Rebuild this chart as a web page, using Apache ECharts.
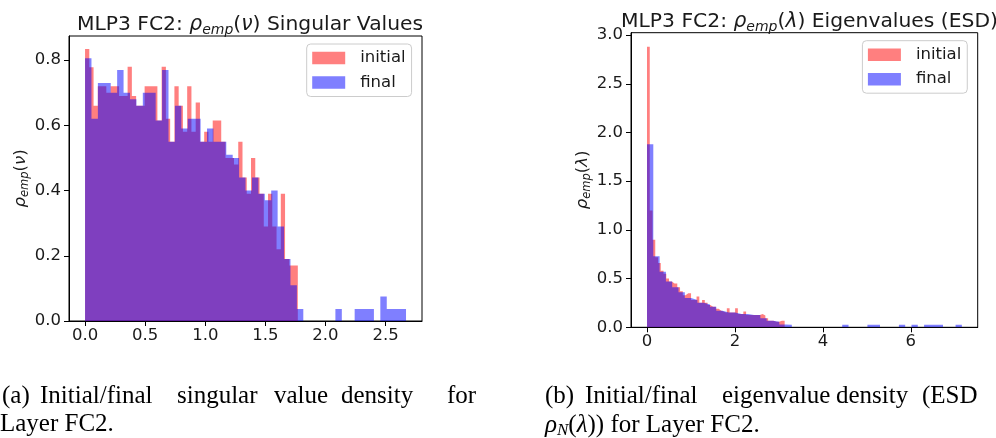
<!DOCTYPE html>
<html><head><meta charset="utf-8">
<script src="https://cdn.jsdelivr.net/npm/echarts@6/dist/echarts.min.js"></script>
<style>html,body{margin:0;padding:0;background:#fff}#c{width:996px;height:438px}</style>
</head><body><div id="c"></div>
<script>
// ---------- Panel (a): singular value densities (50 bins each) ----------
const svBinWidthInitial = 0.0354;
const svInitial = [0.834,0.778,0.66,0.72,0.72,0.70,0.72,0.72,0.69,0.69,0.78,0.69,0.66,0.66,0.72,0.72,0.72,0.615,0.78,0.62,0.55,0.72,0.66,0.58,0.72,0.58,0.67,0.55,0.58,0.55,0.615,0.615,0.55,0.50,0.50,0.48,0.55,0.44,0.39,0.50,0.44,0.39,0.29,0.39,0.29,0.22,0.39,0.19,0.17,0.17];
const svBinWidthFinal = 0.0534;
const svFinal = [0.806,0.62,0.73,0.73,0.70,0.77,0.70,0.68,0.66,0.70,0.70,0.615,0.77,0.55,0.66,0.59,0.62,0.62,0.55,0.59,0.55,0.55,0.51,0.50,0.44,0.40,0.44,0.39,0.37,0.40,0.29,0.19,0.11,0.037,0,0,0,0,0,0.037,0,0,0.037,0.037,0.037,0,0.075,0.037,0.037,0.037];
const svXTicks = [0, 0.5, 1.0, 1.5, 2.0, 2.5];
const svYTicks = [0, 0.2, 0.4, 0.6, 0.8];

// ---------- Panel (b): eigenvalue densities (ESD), 50 bins each ----------
const esdBinWidthInitial = 0.0626;
const esdInitial = [2.88,1.20,0.90,0.72,0.66,0.58,0.55,0.50,0.47,0.45,0.45,0.41,0.37,0.33,0.35,0.35,0.28,0.28,0.315,0.253,0.28,0.253,0.229,0.212,0.212,0.19,0.17,0.16,0.15,0.195,0.151,0.151,0.195,0.137,0.137,0.161,0.127,0.127,0.127,0.127,0.127,0.137,0.12,0.092,0.068,0.068,0.058,0.058,0.068,0.068];
const esdBinWidthFinal = 0.1432;
const esdFinal = [1.88,0.73,0.57,0.47,0.41,0.36,0.30,0.28,0.253,0.235,0.212,0.17,0.151,0.151,0.137,0.137,0.127,0.127,0.092,0.068,0.058,0.03,0.025,0,0,0,0,0,0,0,0,0.025,0,0,0,0.025,0.025,0,0,0,0.025,0,0.025,0,0.025,0.025,0.025,0,0,0.025];
const esdXTicks = [0, 2, 4, 6];
const esdYTicks = [0, 0.5, 1.0, 1.5, 2.0, 2.5, 3.0];

const seriesNames = ['initial', 'final'];
const colInitial = 'rgba(255,0,0,0.5)';
const colFinal = 'rgba(0,0,255,0.5)';

function stepPoints(binWidth, heights) {
  const pts = heights.map((h, i) => [i * binWidth, h]);
  const end = heights.length * binWidth;
  pts.push([end, heights[heights.length - 1]]);
  pts.push([end, 0]);
  return pts;
}

const TXT = '#1a1a1a';
const FONT = 'DejaVu Sans';
const TICK = 16.5;

function histSeries(name, color, idx, pts) {
  return {
    type: 'line', name: name, xAxisIndex: idx, yAxisIndex: idx,
    data: pts, step: 'end', showSymbol: false, symbol: 'none',
    lineStyle: { width: 0, opacity: 0 },
    itemStyle: { color: color },
    areaStyle: { color: color, opacity: 1 },
    animation: false, silent: true
  };
}

function xAxis(idx, min, max, ticks, fmt) {
  return {
    type: 'value', gridIndex: idx, min: min, max: max,
    axisLine: { show: true, onZero: false, lineStyle: { color: '#000', width: 1 } },
    axisTick: { show: true, inside: false, length: 5, customValues: ticks, lineStyle: { color: '#000', width: 1 } },
    axisLabel: { customValues: ticks, margin: 6, color: TXT, fontFamily: FONT, fontSize: TICK, formatter: fmt },
    splitLine: { show: false }
  };
}
function yAxis(idx, min, max, ticks, fmt, name, nameGap) {
  return {
    type: 'value', gridIndex: idx, min: min, max: max,
    axisLine: { show: true, onZero: false, lineStyle: { color: '#000', width: 1 } },
    axisTick: { show: true, inside: false, length: 5, customValues: ticks, lineStyle: { color: '#000', width: 1 } },
    axisLabel: { customValues: ticks, margin: 8, color: TXT, fontFamily: FONT, fontSize: TICK, formatter: fmt },
    splitLine: { show: false },
    name: name, nameLocation: 'middle', nameRotate: 90, nameGap: nameGap,
    nameTextStyle: {
      color: TXT, fontFamily: FONT, fontSize: TICK,
      rich: {
        i: { fontStyle: 'italic', fontFamily: FONT, fontSize: TICK, color: TXT },
        s: { fontStyle: 'italic', fontFamily: FONT, fontSize: 11.5, color: TXT, padding: [9, 0, 0, 0] },
        n: { fontFamily: FONT, fontSize: TICK, color: TXT }
      }
    }
  };
}

const titleRich = {
  n: { fontFamily: FONT, fontSize: 20.3, fontWeight: 'normal', color: TXT },
  i: { fontFamily: FONT, fontSize: 20.3, fontWeight: 'normal', fontStyle: 'italic', color: TXT },
  s: { fontFamily: FONT, fontSize: 14, fontWeight: 'normal', fontStyle: 'italic', color: TXT, padding: [10, 0, 0, 0] }
};

function legend(left, top) {
  return {
    show: true, orient: 'vertical', left: left, top: top,
    data: [
      { name: seriesNames[0], icon: 'rect', itemStyle: { color: colInitial } },
      { name: seriesNames[1], icon: 'rect', itemStyle: { color: colFinal } }
    ],
    itemWidth: 33, itemHeight: 12.5, itemGap: 4.5,
    padding: [4, 6, 4, 5.5],
    borderColor: '#cccccc', borderWidth: 1, borderRadius: 4,
    backgroundColor: 'rgba(255,255,255,0.8)',
    selectedMode: false,
    textStyle: { color: TXT, fontFamily: FONT, fontSize: TICK, lineHeight: 20, padding: [0, 0, 0, 10] }
  };
}

const CAP = '25px "Liberation Serif"';
const CAPI = 'italic 25px "Liberation Serif"';
const CAPS = 'italic 17px "Liberation Serif"';

const chart = echarts.init(document.getElementById('c'), null, { renderer: 'canvas' });
chart.setOption({
  animation: false,
  backgroundColor: '#fff',
  title: [
    { text: '{n|MLP3 FC2: }{i|ρ}{s|emp}{n|(}{i|ν}{n|) Singular Values}', left: 245, top: 8, textAlign: 'center',
      textStyle: { fontWeight: 'normal', rich: titleRich } },
    { text: '{n|MLP3 FC2: }{i|ρ}{s|emp}{n|(}{i|λ}{n|) Eigenvalues (ESD)}', left: 804.5, top: 5, textAlign: 'center',
      textStyle: { fontWeight: 'normal', rich: titleRich } }
  ],
  grid: [
    { left: 69, top: 36, width: 353, height: 285, show: true, borderColor: '#000', borderWidth: 1, backgroundColor: 'transparent' },
    { left: 631, top: 32.7, width: 346.7, height: 294.6, show: true, borderColor: '#000', borderWidth: 1, backgroundColor: 'transparent' }
  ],
  xAxis: [
    xAxis(0, -0.1335, 2.803, svXTicks, v => v.toFixed(1)),
    xAxis(1, -0.364, 7.52, esdXTicks, v => String(Math.round(v)))
  ],
  yAxis: [
    yAxis(0, 0, 0.874, svYTicks, v => v.toFixed(1), '{i|ρ}{s|emp}{n|(}{i|ν}{n|)}', 38),
    yAxis(1, 0, 3.025, esdYTicks, v => v.toFixed(1), '{i|ρ}{s|emp}{n|(}{i|λ}{n|)}', 38)
  ],
  legend: [legend(306.7, 44), legend(862.4, 40.7)],
  series: [
    histSeries(seriesNames[0], colInitial, 0, stepPoints(svBinWidthInitial, svInitial)),
    histSeries(seriesNames[1], colFinal, 0, stepPoints(svBinWidthFinal, svFinal)),
    histSeries(seriesNames[0], colInitial, 1, stepPoints(esdBinWidthInitial, esdInitial)),
    histSeries(seriesNames[1], colFinal, 1, stepPoints(esdBinWidthFinal, esdFinal))
  ],
  graphic: [
    { type: 'group', silent: true, children: [
      ...[['(a)', 2], ['Initial/final', 40], ['singular', 177], ['value', 274], ['density', 341], ['for', 447]].map(w => ({
        type: 'text', x: w[1], y: 384, style: { text: w[0], font: CAP, fill: '#000' } })),
      { type: 'text', x: 0, y: 412, style: { text: 'Layer FC2.', font: CAP, fill: '#000' } },
      ...[['(b)', 545], ['Initial/final', 585], ['eigenvalue', 722], ['density', 836], ['(ESD', 922]].map(w => ({
        type: 'text', x: w[1], y: 384, style: { text: w[0], font: CAP, fill: '#000' } })),
      { type: 'text', x: 545, y: 412, style: {
        text: '{i|ρ}{s|N}{n|(}{i|λ}{n|)) for Layer FC2.}',
        rich: {
          n: { font: CAP, fill: '#000' },
          i: { font: CAPI, fill: '#000' },
          s: { font: CAPS, fill: '#000', padding: [10, 0, 0, 0] }
        } } }
    ] }
  ]
});
</script>
</body></html>
